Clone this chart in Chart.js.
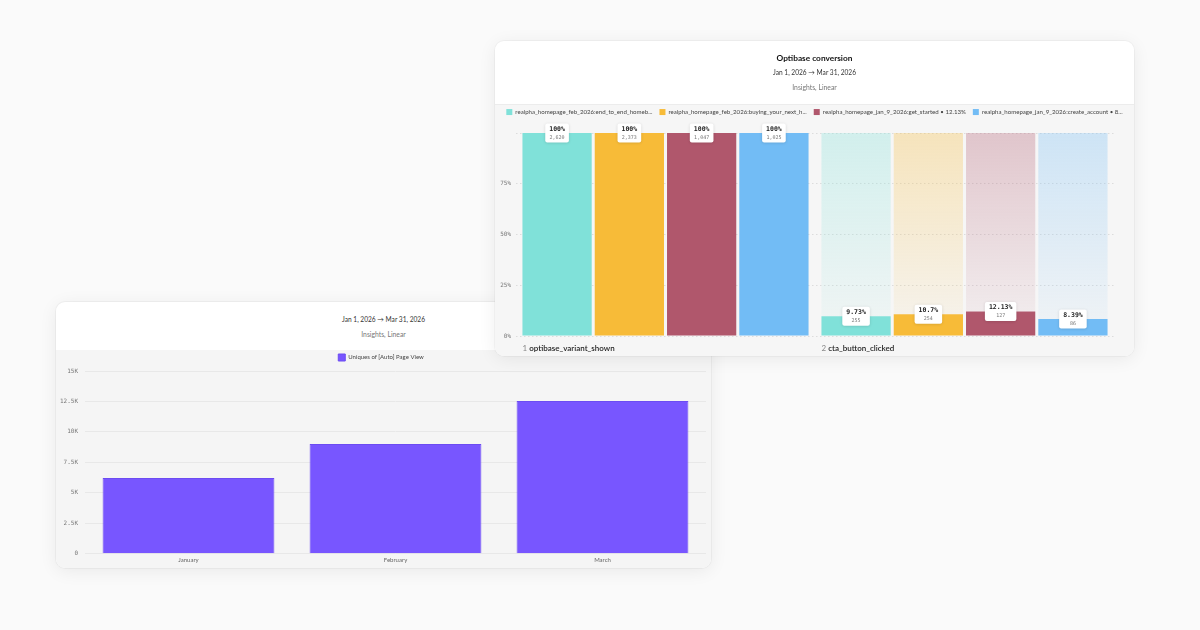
<!DOCTYPE html>
<html><head><meta charset="utf-8">
<script src="https://cdn.jsdelivr.net/npm/chart.js@4.4.1/dist/chart.umd.min.js"></script>
<style>
html,body{margin:0;padding:0;}
body{width:1200px;height:630px;background:#fafafa;position:relative;overflow:hidden;font-family:Lato,"Open Sans",sans-serif;}
.card{position:absolute;background:#fff;border-radius:9px;overflow:hidden;box-shadow:0 3px 18px rgba(0,0,0,0.07),0 0 0 1px rgba(0,0,0,0.035);}
#cardB{left:56px;top:302px;width:655px;height:266px;}
#cardA{left:495px;top:41px;width:639px;height:315px;}
.t{position:absolute;left:0;width:100%;text-align:center;line-height:1;white-space:nowrap;}
.plot{position:absolute;left:0;width:100%;}
#plotB{top:48px;height:218px;background:#f5f5f5;}
#plotA{top:63px;height:252px;background:#f6f6f6;border-top:1px solid #ececec;box-sizing:border-box;}
</style>
</head><body>

<div class="card" id="cardB">
  <div class="t" style="top:13.5px;font-size:6.6px;color:#333;">Jan 1, 2026 → Mar 31, 2026</div>
  <div class="t" style="top:28.5px;font-size:6.8px;color:#777;">Insights, Linear</div>
  <div class="plot" id="plotB"><canvas id="chartB"></canvas></div>
</div>

<div class="card" id="cardA">
  <div class="t" style="top:13px;font-size:8.3px;font-weight:700;color:#111;">Optibase conversion</div>
  <div class="t" style="top:27.5px;font-size:6.6px;color:#333;">Jan 1, 2026 → Mar 31, 2026</div>
  <div class="t" style="top:42.5px;font-size:6.8px;color:#777;">Insights, Linear</div>
  <div class="plot" id="plotA"><canvas id="chartA"></canvas></div>
</div>

<script>
// ---------- Data: lower chart (Uniques of [Auto] Page View) ----------
const months = ['January', 'February', 'March'];
const pageViewUniques = [6230, 9020, 12540];
const pageViewLabel = 'Uniques of [Auto] Page View';
const pageViewTicks = [0, 2500, 5000, 7500, 10000, 12500, 15000];

// ---------- Data: Optibase conversion funnel ----------
const stepNames = ['optibase_variant_shown', 'cta_button_clicked'];
const variantLegend = [
  'realpha_homepage_feb_2026:end_to_end_homeb...',
  'realpha_homepage_feb_2026:buying_your_next_h...',
  'realpha_homepage_jan_9_2026:get_started \u2022 12.13%',
  'realpha_homepage_jan_9_2026:create_account \u2022 8...'
];
const step1Pct = [100, 100, 100, 100];
const step2Pct = [9.73, 10.7, 12.13, 8.39];
const step1Counts = [2620, 2373, 1047, 1025];
const step2Counts = [255, 254, 127, 86];
const funnelTicks = [0, 25, 50, 75, 100];

const variantColors = ['#80e1d9', '#f7bb38', '#b0576c', '#72bcf5'];

function rgba(hex, a) {
  const n = parseInt(hex.slice(1), 16);
  return `rgba(${(n >> 16) & 255},${(n >> 8) & 255},${n & 255},${a})`;
}

// ---------- Lower chart ----------
new Chart(document.getElementById('chartB'), {
  type: 'bar',
  data: {
    labels: months,
    datasets: [{
      label: pageViewLabel,
      data: pageViewUniques,
      backgroundColor: '#7856ff',
      borderColor: '#6c4cf2',
      borderWidth: 1,
      barPercentage: 0.83,
      categoryPercentage: 1
    }]
  },
  options: {
    responsive: true,
    maintainAspectRatio: false,
    animation: false,
    layout: { padding: { left: 0, right: 5, top: 0, bottom: 1 } },
    plugins: {
      legend: {
        position: 'top',
        labels: { boxWidth: 7, boxHeight: 7, color: '#444', font: { family: 'Lato', size: 6 }, padding: 4 }
      },
      tooltip: { enabled: false }
    },
    scales: {
      x: {
        grid: { display: false, drawTicks: false },
        border: { display: false },
        ticks: { color: '#666', font: { family: 'Lato', size: 6 }, padding: 3 }
      },
      y: {
        min: pageViewTicks[0],
        max: pageViewTicks[pageViewTicks.length - 1],
        afterBuildTicks: (s) => { s.ticks = pageViewTicks.map(v => ({ value: v })); },
        afterFit: (s) => { s.width = 29; },
        grid: { color: '#e8e8e8', drawTicks: false },
        border: { display: false },
        ticks: {
          color: '#777',
          font: { family: 'DejaVu Sans Mono', size: 6 },
          padding: 7,
          callback: (v) => v === 0 ? '0' : (v / 1000) + 'K'
        }
      }
    }
  }
});

// ---------- Funnel chart ----------
const funnelLabelsPlugin = {
  id: 'funnelLabels',
  afterDatasetsDraw(chart) {
    const ctx = chart.ctx;
    const countsBySteps = [step1Counts, step2Counts];
    for (let d = 0; d < variantLegend.length; d++) {
      const meta = chart.getDatasetMeta(d);
      meta.data.forEach((bar, i) => {
        const pct = chart.data.datasets[d].data[i];
        const cnt = countsBySteps[i][d];
        const t1 = pct + '%';
        const t2 = cnt.toLocaleString('en-US');
        ctx.save();
        ctx.font = 'bold 6.5px "DejaVu Sans Mono"';
        const w1 = ctx.measureText(t1).width;
        ctx.font = '5px "DejaVu Sans Mono"';
        const w2 = ctx.measureText(t2).width;
        const bw = Math.max(w1, w2) + 8;
        const bh = 19;
        const x0 = bar.x - bw / 2;
        const y0 = bar.y - bh / 2;
        ctx.shadowColor = 'rgba(0,0,0,0.15)';
        ctx.shadowBlur = 3;
        ctx.shadowOffsetY = 0.5;
        ctx.fillStyle = '#ffffff';
        ctx.beginPath();
        ctx.roundRect(x0, y0, bw, bh, 2);
        ctx.fill();
        ctx.shadowColor = 'transparent';
        ctx.textAlign = 'center';
        ctx.textBaseline = 'middle';
        ctx.fillStyle = '#222';
        ctx.font = 'bold 6.5px "DejaVu Sans Mono"';
        ctx.fillText(t1, bar.x, bar.y - 4);
        ctx.fillStyle = '#777';
        ctx.font = '5px "DejaVu Sans Mono"';
        ctx.fillText(t2, bar.x, bar.y + 4.5);
        ctx.restore();
      });
    }
  },
  afterDraw(chart) {
    const ctx = chart.ctx;
    const meta = chart.getDatasetMeta(0);
    const y = chart.chartArea.bottom + 12;
    stepNames.forEach((name, i) => {
      const bar = meta.data[i];
      const x = bar.x - bar.width / 2;
      ctx.save();
      ctx.textBaseline = 'middle';
      ctx.textAlign = 'left';
      ctx.font = '8px Lato';
      ctx.fillStyle = '#888';
      const num = (i + 1) + ' ';
      ctx.fillText(num, x, y);
      const w = ctx.measureText(num).width;
      ctx.font = '600 8px Lato';
      ctx.fillStyle = '#1e1e1e';
      ctx.fillText(name, x + w, y);
      ctx.restore();
    });
  }
};

const funnelDatasets = [];
variantLegend.forEach((label, i) => {
  funnelDatasets.push({
    label: label,
    data: [step1Pct[i], step2Pct[i]],
    backgroundColor: variantColors[i],
    stack: 's' + i,
    barPercentage: 0.958,
    categoryPercentage: 0.967
  });
});
variantLegend.forEach((label, i) => {
  funnelDatasets.push({
    label: 'remaining ' + i,
    data: [100 - step1Pct[i], 100 - step2Pct[i]],
    backgroundColor: (c) => {
      const a = c.chart.chartArea;
      if (!a) return 'transparent';
      const g = c.chart.ctx.createLinearGradient(0, a.top, 0, a.bottom);
      g.addColorStop(0, rgba(variantColors[i], 0.3));
      g.addColorStop(1, rgba(variantColors[i], 0.04));
      return g;
    },
    stack: 's' + i,
    barPercentage: 0.958,
    categoryPercentage: 0.967
  });
});

new Chart(document.getElementById('chartA'), {
  type: 'bar',
  data: { labels: stepNames, datasets: funnelDatasets },
  plugins: [funnelLabelsPlugin],
  options: {
    responsive: true,
    maintainAspectRatio: false,
    animation: false,
    layout: { padding: { left: 0, right: 0, top: -3, bottom: 20 } },
    plugins: {
      legend: {
        position: 'top',
        labels: {
          boxWidth: 6, boxHeight: 6, color: '#444',
          font: { family: 'Lato', size: 6.1 }, padding: 7,
          filter: (item) => item.datasetIndex < variantLegend.length
        }
      },
      tooltip: { enabled: false }
    },
    scales: {
      x: { stacked: true, display: false },
      xSpacer: {
        type: 'category', position: 'top', display: true,
        grid: { display: false, drawTicks: false }, border: { display: false },
        ticks: { display: false },
        afterFit: (s) => { s.height = 8; }
      },
      y: {
        stacked: true,
        min: funnelTicks[0],
        max: funnelTicks[funnelTicks.length - 1],
        afterBuildTicks: (s) => { s.ticks = funnelTicks.map(v => ({ value: v })); },
        afterFit: (s) => { s.width = 21; },
        grid: { color: '#dcdcdc', drawTicks: false },
        border: { display: false, dash: [1.5, 2.5] },
        ticks: {
          color: '#777',
          font: { family: 'DejaVu Sans Mono', size: 6 },
          padding: 5,
          callback: (v) => v === 100 ? '' : v + '%'
        }
      },
      ySpacer: {
        type: 'linear', position: 'right', display: true,
        grid: { display: false, drawTicks: false }, border: { display: false },
        ticks: { display: false },
        afterFit: (s) => { s.width = 20; }
      }
    }
  }
});
</script>
</body></html>
